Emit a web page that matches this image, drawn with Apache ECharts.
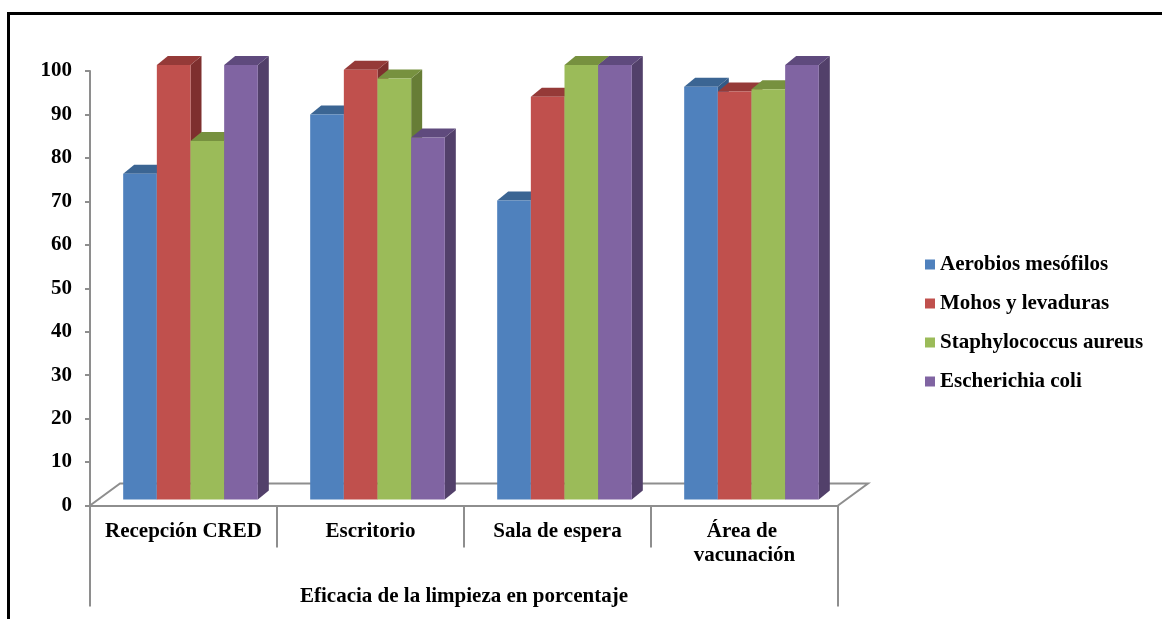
<!DOCTYPE html>
<html>
<head>
<meta charset="utf-8">
<script src="https://cdn.jsdelivr.net/npm/echarts@6/dist/echarts.min.js"></script>
<style>
  html, body { margin: 0; padding: 0; background: #fff; }
  #chart { width: 1162px; height: 619px; }
</style>
</head>
<body>
<div id="chart"></div>
<script>
// Areas sampled and cleaning efficacy (%) per microorganism group
const categories = ['Recepción CRED', 'Escritorio', 'Sala de espera', 'Área de vacunación'];
const groupTitle = 'Eficacia de la limpieza en porcentaje';
const seriesNames = ['Aerobios mesófilos', 'Mohos y levaduras', 'Staphylococcus aureus', 'Escherichia coli'];
const aerobios = [75.0, 88.6, 68.8, 95.0];
const mohos = [100, 98.9, 92.7, 93.9];
const staphylococcus = [82.5, 96.9, 100, 94.4];
const escherichia = [100, 83.3, 100, 100];
const yTicks = [0, 10, 20, 30, 40, 50, 60, 70, 80, 90, 100];

const seriesValues = [aerobios, mohos, staphylococcus, escherichia];

// front / top / side shades for each column
const shades = [
  { front: '#4F81BD', top: '#3B6593', side: '#345A86' },
  { front: '#C0504D', top: '#953A38', side: '#7E2F2E' },
  { front: '#9BBB59', top: '#77913F', side: '#677D36' },
  { front: '#8064A2', top: '#5F4A7D', side: '#52406A' }
];

const FONT = '"Liberation Serif", "Times New Roman", serif';
const FS = 21;
const AXIS_GREY = '#8e8e8e';
const BAR_FRAC = 0.18;      // bar width as a fraction of the category band
const FRONT = [7, -6];      // front plane of the columns relative to the axis plane
const DEPTH = [11, -9];     // column depth offset
const FLOOR = [30, -22];    // floor depth offset

function columnRenderer(k) {
  const c = shades[k];
  return function (params, api) {
    const cat = api.value(0);
    const val = api.value(1);
    const base = api.coord([cat, 0]);
    const top = api.coord([cat, val]);
    const band = api.size([1, 0])[0];
    const bw = band * BAR_FRAC;
    const x0 = base[0] - 2 * bw + k * bw + FRONT[0];
    const x1 = x0 + bw;
    const yb = base[1] + FRONT[1];
    const yt = top[1] + FRONT[1];
    const dx = DEPTH[0], dy = DEPTH[1];
    return {
      type: 'group',
      children: [
        { type: 'polygon', shape: { points: [[x1, yt], [x1 + dx, yt + dy], [x1 + dx, yb + dy], [x1, yb]] },
          style: { fill: c.side } },
        { type: 'polygon', shape: { points: [[x0, yt], [x1, yt], [x1 + dx, yt + dy], [x0 + dx, yt + dy]] },
          style: { fill: c.top } },
        { type: 'rect', shape: { x: x0, y: yt, width: bw, height: yb - yt },
          style: { fill: c.front } }
      ]
    };
  };
}

function floorRenderer(params, api) {
  const cs = params.coordSys;
  const xl = cs.x, xr = cs.x + cs.width, yf = cs.y + cs.height;
  const fx = FLOOR[0], fy = FLOOR[1];
  return {
    type: 'polyline',
    shape: { points: [[xl, yf], [xl + fx, yf + fy], [xr + fx, yf + fy], [xr, yf]] },
    style: { stroke: AXIS_GREY, lineWidth: 2, fill: null }
  };
}

const series = [{
  type: 'custom',
  name: 'floor',
  renderItem: floorRenderer,
  data: [[0, 0]],
  encode: { x: 0, y: 1 },
  silent: true,
  z: 1
}];
seriesNames.forEach(function (name, k) {
  series.push({
    type: 'custom',
    name: name,
    renderItem: columnRenderer(k),
    data: seriesValues[k].map(function (v, i) { return [i, v]; }),
    encode: { x: 0, y: 1 },
    itemStyle: { color: shades[k].front },
    z: 2 + k
  });
});

const chart = echarts.init(document.getElementById('chart'));
chart.setOption({
  animation: false,
  backgroundColor: '#ffffff',
  graphic: [{
    type: 'rect',
    shape: { x: 8.5, y: 13.5, width: 2000, height: 2000 },
    style: { fill: null, stroke: '#000', lineWidth: 3 },
    z: 100
  }],
  grid: { left: 90, top: 71, width: 748, bottom: 113.5, containLabel: false },
  legend: {
    data: seriesNames,
    orient: 'vertical',
    left: 920,
    top: 249,
    itemWidth: 10,
    itemHeight: 10,
    itemGap: 18,
    icon: 'rect',
    textStyle: { fontFamily: FONT, fontWeight: 'bold', fontSize: FS, color: '#000', lineHeight: 21 }
  },
  xAxis: [{
    type: 'category',
    data: categories,
    position: 'bottom',
    axisLine: { show: true, lineStyle: { color: AXIS_GREY, width: 2 } },
    axisTick: { show: true, interval: 0, length: 42, lineStyle: { color: AXIS_GREY, width: 2 } },
    axisLabel: {
      interval: 0, margin: 14, color: '#000', fontFamily: FONT, fontWeight: 'bold',
      fontSize: FS, lineHeight: 24, width: 176, overflow: 'break'
    }
  }, {
    type: 'category',
    data: [groupTitle],
    position: 'bottom',
    axisLine: { show: false },
    axisTick: { show: true, length: 101, lineStyle: { color: AXIS_GREY, width: 2 } },
    axisLabel: { margin: 81, color: '#000', fontFamily: FONT, fontWeight: 'bold', fontSize: FS, lineHeight: 21 }
  }],
  yAxis: {
    type: 'value',
    min: yTicks[0],
    max: yTicks[yTicks.length - 1],
    interval: yTicks[1] - yTicks[0],
    axisLine: { show: true, lineStyle: { color: AXIS_GREY, width: 2 } },
    axisTick: { show: true, length: 5, lineStyle: { color: AXIS_GREY, width: 2 } },
    splitLine: { show: false },
    axisLabel: { margin: 18, color: '#000', fontFamily: FONT, fontWeight: 'bold', fontSize: FS }
  },
  series: series
});
</script>
</body>
</html>
